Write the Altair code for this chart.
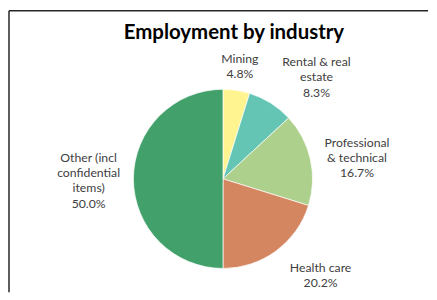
import altair as alt
import pandas as pd

categories = ["Mining", "Rental & real estate", "Professional & technical",
              "Health care", "Other (incl confidential items)"]
shares = [4.8, 8.3, 16.7, 20.2, 50.0]
label_text = ["Mining\n4.8%", "Rental & real\nestate\n8.3%",
              "Professional\n& technical\n16.7%", "Health care\n20.2%",
              "Other (incl\nconfidential\nitems)\n50.0%"]
colors = ["#FFF48F", "#64C5B5", "#ADD08C", "#D3865F", "#42A06B"]
title_text = "Employment by industry"

df = pd.DataFrame({"category": categories, "share": shares,
                   "label": label_text, "idx": list(range(len(categories)))})

W, H = 421, 283
CX, CY = 215, 169
FONT = "Lato"
theta_scale = alt.Scale(domain=[0, 100])

base = alt.Chart(df)

pie = base.mark_arc(outerRadius=90, stroke="white", strokeWidth=0.7).encode(
    theta=alt.Theta("share:Q", stack=True, scale=theta_scale),
    color=alt.Color("category:N", scale=alt.Scale(domain=categories, range=colors), legend=None),
    order=alt.Order("idx:Q"),
    x=alt.value(CX), y=alt.value(CY),
)

lab = base.transform_window(
    cum="sum(share)", sort=[alt.SortField("idx")], frame=[None, 0]
).transform_calculate(mid="datum.cum - datum.share / 2")

# label placement style: (radius, dx, dy)
label_style = {
    "Mining": (113, 0, -9),
    "Rental & real estate": (135, 22, -3),
    "Professional & technical": (136, 2, -6),
    "Health care": (135, 18, -19.5),
    "Other (incl confidential items)": (137, 2, -21),
}

layers = [pie]
for c in categories:
    r, dx, dy = label_style[c]
    layers.append(
        lab.transform_filter(alt.datum.category == c).mark_text(
            radius=r, dx=dx, dy=dy, lineBreak="\n", lineHeight=15.3,
            font=FONT, fontSize=12.3, color="#404040", align="center", baseline="middle"
        ).encode(
            theta=alt.Theta("mid:Q", stack=False, scale=theta_scale),
            text="label:N",
            x=alt.value(CX), y=alt.value(CY),
        )
    )

title = alt.Chart(pd.DataFrame({"t": [title_text]})).mark_text(
    font=FONT, fontSize=20.5, fontWeight="bold", color="#000000",
    align="center", baseline="alphabetic"
).encode(text="t:N", x=alt.value(226), y=alt.value(28))
layers.append(title)

frame_df = pd.DataFrame({"f": [0]})
left_edge = alt.Chart(frame_df).mark_rule(color="#262626", strokeWidth=1.5).encode(
    x=alt.value(0), y=alt.value(0), y2=alt.value(H))
top_edge = alt.Chart(frame_df).mark_rule(color="#262626", strokeWidth=1.5).encode(
    x=alt.value(0), x2=alt.value(W), y=alt.value(0))
layers += [left_edge, top_edge]

chart = alt.layer(*layers).properties(
    width=W, height=H, background="white",
    padding={"left": 0, "top": 1, "right": 0, "bottom": 0},
).configure_view(stroke=None)

chart.save("out.html", embed_options={"renderer": "svg", "actions": False})
